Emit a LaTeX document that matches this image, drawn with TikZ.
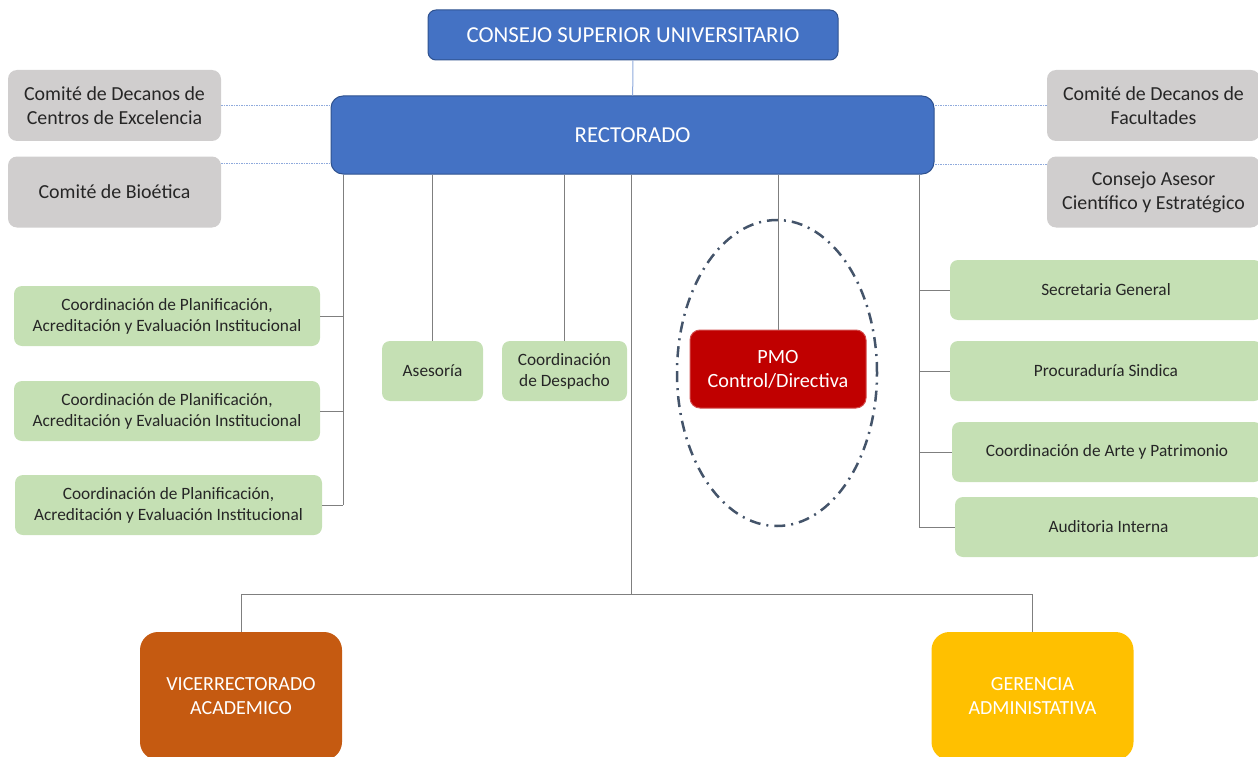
\documentclass[tikz,border=0pt]{standalone}
\usepackage{fontspec}
\setmainfont{Carlito}
\usepackage{tikz}
\usetikzlibrary{shapes.geometric}

\definecolor{azul}{HTML}{4472C4}
\definecolor{azulborde}{HTML}{2F528F}
\definecolor{azulclaro}{HTML}{8FAADC}
\definecolor{gris}{HTML}{D0CECE}
\definecolor{verde}{HTML}{C5E0B4}
\definecolor{rojo}{HTML}{C00000}
\definecolor{naranja}{HTML}{C55A11}
\definecolor{amarillo}{HTML}{FFC000}
\definecolor{linea}{HTML}{7F7F7F}
\definecolor{pizarra}{HTML}{44546A}
\definecolor{texto}{HTML}{262626}

\begin{document}
\begin{tikzpicture}[x=1pt, y=-1pt, inner sep=0pt,
	jefe/.style={rectangle, rounded corners=8pt, fill=azul, draw=azulborde, line width=1pt, text=white, align=center, font=\fontsize{22.8}{26}\selectfont},
	comite/.style={rectangle, rounded corners=9pt, fill=gris, text=texto, align=center, minimum width=213pt, minimum height=71pt, font=\fontsize{19.9}{24}\selectfont},
	unidad/.style={rectangle, rounded corners=8pt, fill=verde, text=texto, align=center, minimum height=60pt, font=\fontsize{17.3}{21}\selectfont},
	vice/.style={rectangle, rounded corners=18pt, text=white, align=center, minimum width=202pt, minimum height=128pt, font=\fontsize{20}{24}\selectfont},
	enlace/.style={draw=linea, line width=1pt},
	punteado/.style={draw=azulclaro, line width=0.8pt, dash pattern=on 1.5pt off 1pt}]
	\useasboundingbox (0,0) rectangle (1258,757);

	% cabecera
	\node[jefe, minimum width=410pt, minimum height=50pt](csu) at (633,35) {CONSEJO SUPERIOR UNIVERSITARIO};
	\node[jefe, rounded corners=12pt, minimum width=603pt, minimum height=78pt](rect) at (632.5,135) {RECTORADO};

	% comites
	\node[comite](cdce) at (114.5,105.5) {Comité de Decanos de\\Centros de Excelencia};
	\node[comite](cbio) at (114.5,192) {Comité de Bioética};
	\node[comite](cdfa) at (1153.5,105.5) {Comité de Decanos de\\Facultades};
	\node[comite](case) at (1153.5,192) {Consejo Asesor\\Científico y Estratégico};

	% unidades izquierda
	\node[unidad, minimum width=306pt](cpa) at (167,316) {Coordinación de Planificación,\\Acreditación y Evaluación Institucional};
	\node[unidad, minimum width=306pt](cpb) at (167,411) {Coordinación de Planificación,\\Acreditación y Evaluación Institucional};
	\node[unidad, minimum width=307pt](cpc) at (168.5,505) {Coordinación de Planificación,\\Acreditación y Evaluación Institucional};

	% unidades centro
	\node[unidad, minimum width=101pt](ases) at (432.5,371) {Asesoría};
	\node[unidad, minimum width=125pt](desp) at (564.5,371) {Coordinación\\de Despacho};
	\node[rectangle, rounded corners=10pt, fill=rojo, draw=rojo!70!white, line width=1pt, text=white, align=center, minimum width=176pt, minimum height=78pt, font=\fontsize{20.2}{24}\selectfont](pmo) at (778,369) {PMO\\Control/Directiva};
	\node[ellipse, draw=pizarra, line width=2.5pt, dash pattern=on 11pt off 6pt on 2pt off 6pt, minimum width=200pt, minimum height=306pt](anillo) at (777,373) {};

	% unidades derecha
	\node[unidad, minimum width=312pt](secg) at (1106,290) {Secretaria General};
	\node[unidad, minimum width=312pt](proc) at (1106,371) {Procuraduría Sindica};
	\node[unidad, minimum width=310pt](arte) at (1107,452) {Coordinación de Arte y Patrimonio};
	\node[unidad, minimum width=307pt](audi) at (1108.5,527) {Auditoria Interna};

	% vicerrectorados
	\node[vice, fill=naranja](vaca) at (241,696) {VICERRECTORADO\\ACADEMICO};
	\node[vice, fill=amarillo](gadm) at (1032.5,696) {GERENCIA\\ADMINISTATIVA};

	\coordinate (busizq) at (343,505);
	\coordinate (busder) at (919,527);
	\coordinate (businf) at (631,594);

	\draw[draw=azulclaro, line width=1pt](csu) -- (rect);

	\draw[punteado](cdce.east) -- (cdce.east -| rect.west);
	\draw[punteado]([yshift=-7pt]cbio.north east) -- ([yshift=-7pt]cbio.north east -| rect.west);
	\draw[punteado](cdfa.west) -- (cdfa.west -| rect.east);
	\draw[punteado]([yshift=-8pt]case.north west) -- ([yshift=-8pt]case.north west -| rect.east);

	\draw[enlace](rect.south -| busizq) -- (busizq);
	\draw[enlace](cpa.east) -- (cpa.east -| busizq);
	\draw[enlace](cpb.east) -- (cpb.east -| busizq);
	\draw[enlace](cpc.east) -- (cpc.east -| busizq);

	\draw[enlace](rect.south -| ases) -- (ases);
	\draw[enlace](rect.south -| desp) -- (desp);
	\draw[enlace](rect.south -| pmo) -- (pmo);

	\draw[enlace](rect.south -| busder) -- (busder);
	\draw[enlace](secg.west) -- (secg.west -| busder);
	\draw[enlace](proc.west) -- (proc.west -| busder);
	\draw[enlace](arte.west) -- (arte.west -| busder);
	\draw[enlace](audi.west) -- (audi.west -| busder);

	\draw[enlace](rect.south -| businf) -- (businf);
	\draw[enlace](vaca.north) -- (vaca.north |- businf) -- (gadm.north |- businf) -- (gadm.north);
\end{tikzpicture}
\end{document}
